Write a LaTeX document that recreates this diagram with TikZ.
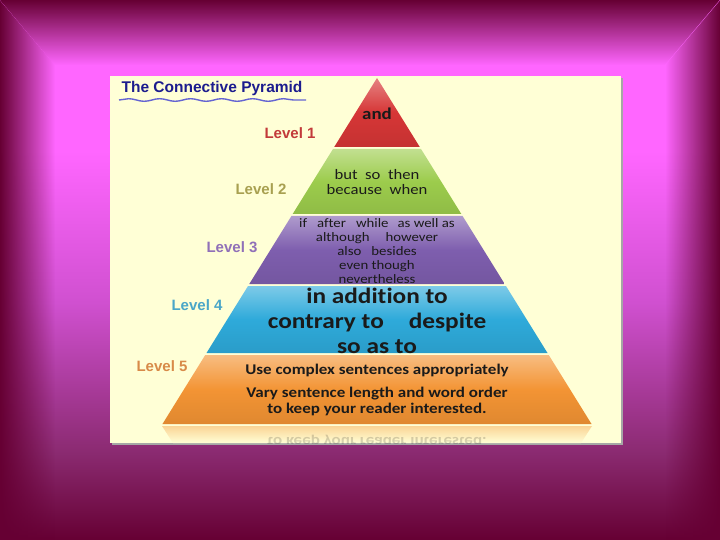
\documentclass[tikz,border=0pt]{standalone}
\usepackage{fontspec}
\setmainfont{Carlito}[FakeStretch=1.15,Ligatures=NoCommon]
\newfontfamily\titlefont{Liberation Sans}
\usetikzlibrary{fadings,decorations.pathmorphing}

\definecolor{bgdark}{HTML}{660033}
\definecolor{bgmid}{HTML}{8A2A70}
\definecolor{bgpink}{HTML}{D050D0}
\definecolor{bgbright}{HTML}{FF66FF}
\definecolor{panel}{HTML}{FFFFD6}
\definecolor{titleblue}{HTML}{1C1C8E}
\definecolor{wavyblue}{HTML}{6464D2}
\definecolor{textdark}{HTML}{1A1A1A}
\definecolor{tierred}{HTML}{D63636}
\definecolor{tiergreen}{HTML}{9CCC4C}
\definecolor{tierpurple}{HTML}{7E5EAE}
\definecolor{tierblue}{HTML}{2EAADA}
\definecolor{tierorange}{HTML}{F39434}
\definecolor{lvlred}{HTML}{C23A3A}
\definecolor{lvlolive}{HTML}{A8A050}
\definecolor{lvlpurple}{HTML}{9070B8}
\definecolor{lvlblue}{HTML}{4AA6C8}
\definecolor{lvlorange}{HTML}{D88A48}

\pgfdeclareverticalshading{bgshade}{100bp}{color(0bp)=(bgdark); color(25bp)=(bgdark);
  color(33bp)=(bgmid); color(47bp)=(bgpink); color(61bp)=(bgbright); color(100bp)=(bgbright)}
\tikzfading[name=edgeright, left color=transparent!0, right color=transparent!100]
\tikzfading[name=edgeleft, right color=transparent!0, left color=transparent!100]
\tikzfading[name=edgedown, top color=transparent!0, bottom color=transparent!100]

\begin{document}
\begin{tikzpicture}[x=1pt,y=-1pt,
    tiertext/.style={inner sep=0pt, align=center, text=textdark},
    lvl/.style={inner sep=0pt, font=\titlefont\bfseries\fontsize{15}{15}\selectfont}]
  \useasboundingbox (0,0) rectangle (720,540);

  % Background with bevelled edges
  \shade[shading=bgshade] (0,0) rectangle (720,540);
  \fill[bgdark,path fading=edgedown] (0,0) -- (720,0) -- (665,65) -- (55,65) -- cycle;
  \fill[bgdark,path fading=edgeright] (0,0) -- (55,65) -- (55,540) -- (0,540) -- cycle;
  \fill[bgdark,path fading=edgeleft] (720,0) -- (665,65) -- (665,540) -- (720,540) -- cycle;

  % Panel
  \fill[black!35] (112,78) rectangle (623,445);
  \fill[panel] (110,76) rectangle (621,443);

  % Title
  \node[inner sep=0pt, text=titleblue, font=\titlefont\bfseries\fontsize{15.5}{16}\selectfont]
    (title) at (212,88) {The Connective Pyramid};
  \draw[wavyblue, line width=1.4pt, decorate,
    decoration={snake, amplitude=1.3pt, segment length=31pt}] (119,100) -- (306,100);

  % Pyramid tiers
  \foreach \ya/\yb/\col in {78/147/tierred, 149/214/tiergreen, 216/284/tierpurple,
                            286/353/tierblue, 355/424/tierorange}
    \shade[top color=\col!62!white, bottom color=\col!92!black, middle color=\col]
      ({377-0.62*(\ya-78)},\ya) -- ({377+0.62*(\ya-78)},\ya) --
      ({377+0.62*(\yb-78)},\yb) -- ({377-0.62*(\yb-78)},\yb) -- cycle;

  % Reflection under the base
  \begin{scope}
    \clip (110,426) rectangle (621,443);
    \shade[top color=tierorange!40!panel, bottom color=panel]
      (162,426) -- (592,426) -- (581,443) -- (173,443) -- cycle;
    \node[tiertext, opacity=0.18, transform shape, yscale=-1,
      font=\bfseries\fontsize{14.8}{16}\selectfont]
      (mirror) at (377,442) {to keep your reader interested.};
  \end{scope}

  % Tier texts
  \node[tiertext, font=\bfseries\fontsize{16.5}{18}\selectfont] (andtxt) at (377,114) {and};
  \node[tiertext, font=\fontsize{14.5}{15}\selectfont] (conjtxt) at (377,182)
    {but\ \ so\ \ then\\because\ \ when};
  \node[tiertext, font=\fontsize{12.9}{14}\selectfont] (subtxt) at (377,251)
    {if\hspace{10pt}after\hspace{10pt}while\hspace{9pt}as well as\\
     although\hspace{16pt}however\\
     also\hspace{10pt}besides\\
     even though\\
     nevertheless};
  \node[tiertext, font=\bfseries\fontsize{22}{25}\selectfont] (phrasetxt) at (377,321)
    {in addition to\\contrary to\hspace{25pt}despite\\so as to};
  \node[tiertext, font=\bfseries\fontsize{14.8}{16}\selectfont] (styletxt) at (377,390)
    {Use complex sentences appropriately\\[7pt]
     Vary sentence length and word order\\
     to keep your reader interested.};

  % Level labels
  \node[lvl, text=lvlred] (lvlone) at (290,133) {Level 1};
  \node[lvl, text=lvlolive] (lvltwo) at (261,189) {Level 2};
  \node[lvl, text=lvlpurple] (lvlthree) at (232,247) {Level 3};
  \node[lvl, text=lvlblue] (lvlfour) at (197,305) {Level 4};
  \node[lvl, text=lvlorange] (lvlfive) at (162,366) {Level 5};
\end{tikzpicture}
\end{document}
